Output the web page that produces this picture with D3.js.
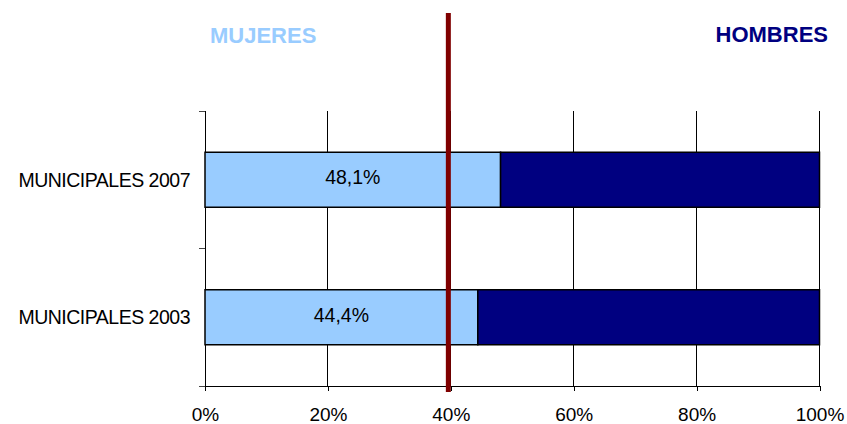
<!DOCTYPE html>
<html><head><meta charset="utf-8">
<script src="https://cdn.jsdelivr.net/npm/d3@7"></script>
<style>body{margin:0;background:#fff}svg{display:block}text{font-family:"Liberation Sans",Arial,sans-serif}</style>
</head><body>
<svg id="c" width="847" height="424"></svg>
<script>
const categories = ["MUNICIPALES 2007", "MUNICIPALES 2003"];
const mujeres = [48.1, 44.4];
const hombres = [51.9, 55.6];
const barLabels = ["48,1%", "44,4%"];
const xTicks = [0, 20, 40, 60, 80, 100];
const refLine = 39.6;
const legendNames = ["MUJERES", "HOMBRES"];

const svg = d3.select("#c");
const x = d3.scaleLinear().domain([0, 100]).range([205, 819.5]);
const y = d3.scaleBand().domain(categories).range([111, 386]).paddingInner(0.6).paddingOuter(0.3);

// gridlines
svg.append("g").selectAll("line").data(xTicks.slice(1)).join("line")
  .attr("x1", d => x(d)).attr("x2", d => x(d)).attr("y1", 111).attr("y2", 386)
  .attr("stroke", "#000").attr("stroke-width", 1).attr("shape-rendering", "crispEdges");

// bottom axis
const xAxis = d3.axisBottom(x).tickValues(xTicks).tickFormat(d => d + "%").tickSize(5).tickSizeOuter(0).tickPadding(17);
const gx = svg.append("g").attr("transform", "translate(0,386)").call(xAxis);
gx.select(".domain").attr("stroke", "#000").attr("shape-rendering", "crispEdges");
gx.selectAll(".tick line").attr("stroke", "#000").attr("shape-rendering", "crispEdges");
gx.selectAll("text").attr("font-size", 19).attr("fill", "#000").attr("font-family", "Liberation Sans, Arial, sans-serif");

// left axis line + ticks at band boundaries
svg.append("line").attr("x1", 205).attr("x2", 205).attr("y1", 111).attr("y2", 386)
  .attr("stroke", "#000").attr("shape-rendering", "crispEdges");
const bounds = [111, (y(categories[0]) + y.bandwidth() + y(categories[1])) / 2, 386];
svg.append("g").selectAll("line").data(bounds).join("line")
  .attr("x1", 199).attr("x2", 205).attr("y1", d => d).attr("y2", d => d)
  .attr("stroke", "#444").attr("shape-rendering", "crispEdges");

// category labels
svg.append("g").selectAll("text").data(categories).join("text")
  .attr("x", 190).attr("y", d => y(d) + y.bandwidth() / 2).attr("dy", "0.35em")
  .attr("text-anchor", "end").attr("font-size", 19.5).attr("letter-spacing", "-0.5px").text(d => d);

// bars
const g = svg.append("g");
g.selectAll(".m").data(categories).join("rect").attr("class", "m")
  .attr("x", x(0)).attr("y", d => y(d)).attr("width", (d, i) => x(mujeres[i]) - x(0)).attr("height", y.bandwidth())
  .attr("fill", "#99CCFF").attr("stroke", "#000").attr("stroke-width", 1.5);
g.selectAll(".h").data(categories).join("rect").attr("class", "h")
  .attr("x", (d, i) => x(mujeres[i])).attr("y", d => y(d)).attr("width", (d, i) => x(mujeres[i] + hombres[i]) - x(mujeres[i])).attr("height", y.bandwidth())
  .attr("fill", "#000080").attr("stroke", "#000").attr("stroke-width", 1.5);

// bar labels
g.selectAll(".lbl").data(categories).join("text").attr("class", "lbl")
  .attr("x", (d, i) => (x(0) + x(mujeres[i])) / 2).attr("y", d => y(d) + y.bandwidth() / 2 + 4.5)
  .attr("text-anchor", "middle").attr("font-size", 19.5).attr("fill", "#000").text((d, i) => barLabels[i]);

// reference line
svg.append("line").attr("x1", x(refLine)).attr("x2", x(refLine)).attr("y1", 13).attr("y2", 392)
  .attr("stroke", "#800000").attr("stroke-width", 5);

// legend titles
svg.append("text").attr("x", 210).attr("y", 43).attr("font-size", 22).attr("font-weight", "bold").attr("fill", "#99CCFF").text(legendNames[0]);
svg.append("text").attr("x", 828).attr("y", 42).attr("text-anchor", "end").attr("font-size", 22).attr("font-weight", "bold").attr("fill", "#000080").text(legendNames[1]);
</script>
</body></html>
